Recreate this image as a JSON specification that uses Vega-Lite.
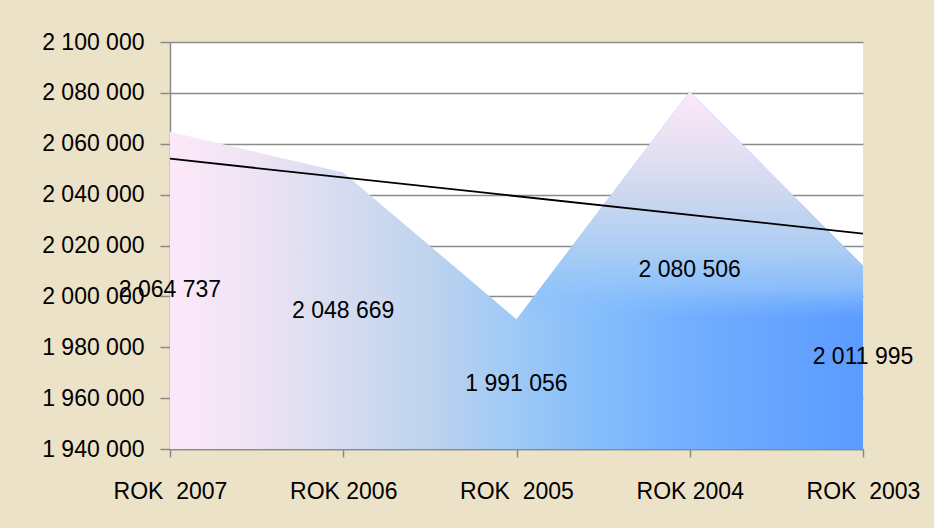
{
  "$schema": "https://vega.github.io/schema/vega-lite/v6.json",
  "width": 693,
  "height": 407,
  "autosize": "none",
  "padding": {"left": 170, "top": 42, "right": 71, "bottom": 79},
  "background": "#ece2c7",
  "config": {
    "locale": {"number": {"decimal": ",", "thousands": " ", "grouping": [3], "currency": ["", " zł"]}},
    "view": {"fill": "white", "stroke": null},
    "font": "Liberation Sans",
    "axis": {
      "labelFont": "Liberation Sans",
      "labelFontSize": 23,
      "labelColor": "black",
      "tickColor": "#8a8a8a",
      "domainColor": "#8a8a8a",
      "domainWidth": 1.5,
      "tickWidth": 1.5,
      "gridColor": "#8c8c8c",
      "gridWidth": 1.5,
      "title": null
    }
  },
  "data": {
    "values": [
      {"rok": "ROK \u00a02007", "value": 2064737},
      {"rok": "ROK 2006", "value": 2048669},
      {"rok": "ROK \u00a02005", "value": 1991056},
      {"rok": "ROK 2004", "value": 2080506},
      {"rok": "ROK \u00a02003", "value": 2011995}
    ]
  },
  "resolve": {"scale": {"x": "independent"}},
  "layer": [
    {
      "mark": {
        "type": "area",
        "color": {
          "gradient": "linear",
          "x1": 0, "y1": 0, "x2": 1, "y2": 0,
          "stops": [
            {"offset": 0, "color": "#fce8f8"},
            {"offset": 0.115, "color": "#efe4f5"},
            {"offset": 0.25, "color": "#d6dcf0"},
            {"offset": 0.375, "color": "#bdd3ee"},
            {"offset": 0.5, "color": "#9ec9f6"},
            {"offset": 0.62, "color": "#84bdfc"},
            {"offset": 0.75, "color": "#72aefe"},
            {"offset": 0.88, "color": "#66a4ff"},
            {"offset": 1, "color": "#5b9bff"}
          ]
        }
      },
      "encoding": {
        "x": {
          "field": "rok", "type": "ordinal", "sort": null,
          "scale": {"type": "point", "padding": 0, "domain": ["ROK \u00a02007", "ROK 2006", "ROK \u00a02005", "ROK 2004", "ROK \u00a02003"]},
          "axis": {"labelAngle": 0, "tickSize": 8, "labelPadding": 23, "grid": false}
        },
        "y": {
          "field": "value", "type": "quantitative",
          "scale": {"domain": [1940000, 2100000], "zero": false, "nice": false},
          "axis": {
            "values": [1940000, 1960000, 1980000, 2000000, 2020000, 2040000, 2060000, 2080000, 2100000],
            "format": ",.0f",
            "tickSize": 10,
            "labelPadding": 16,
            "grid": true
          }
        },
        "y2": {"datum": 1940000}
      }
    },
    {
      "transform": [{"filter": {"field": "rok", "oneOf": ["ROK \u00a02005", "ROK 2004", "ROK \u00a02003"]}}],
      "mark": {
        "type": "area",
        "color": {
          "gradient": "linear",
          "x1": 0, "y1": 0, "x2": 0, "y2": 1,
          "stops": [
            {"offset": 0, "color": "rgba(252,232,248,1)"},
            {"offset": 0.16, "color": "rgba(230,224,243,1)"},
            {"offset": 0.3, "color": "rgba(202,215,238,1)"},
            {"offset": 0.45, "color": "rgba(169,205,244,1)"},
            {"offset": 0.55, "color": "rgba(148,196,249,0.8)"},
            {"offset": 0.635, "color": "rgba(132,189,252,0)"},
            {"offset": 1, "color": "rgba(91,155,255,0)"}
          ]
        }
      },
      "encoding": {
        "x": {
          "field": "rok", "type": "ordinal", "sort": null,
          "scale": {"type": "point", "padding": 0, "domain": ["ROK \u00a02007", "ROK 2006", "ROK \u00a02005", "ROK 2004", "ROK \u00a02003"]},
          "axis": null
        },
        "y": {"field": "value", "type": "quantitative"},
        "y2": {"datum": 1940000}
      }
    },
    {
      "transform": [
        {"window": [{"op": "row_number", "as": "i"}]},
        {"regression": "value", "on": "i"}
      ],
      "mark": {"type": "line", "color": "black", "strokeWidth": 1.8},
      "encoding": {
        "x": {"field": "i", "type": "quantitative", "scale": {"domain": [1, 5], "nice": false, "zero": false}, "axis": null},
        "y": {"field": "value", "type": "quantitative"}
      }
    },
    {
      "transform": [{"calculate": "(datum.value + 1940000) / 2", "as": "mid"}],
      "mark": {"type": "text", "fontSize": 23, "align": "center", "baseline": "middle", "color": "black", "font": "Liberation Sans"},
      "encoding": {
        "x": {
          "field": "rok", "type": "ordinal", "sort": null,
          "scale": {"type": "point", "padding": 0, "domain": ["ROK \u00a02007", "ROK 2006", "ROK \u00a02005", "ROK 2004", "ROK \u00a02003"]},
          "axis": null
        },
        "y": {"field": "mid", "type": "quantitative"},
        "text": {"field": "value", "type": "quantitative", "format": ",.0f"}
      }
    }
  ]
}
